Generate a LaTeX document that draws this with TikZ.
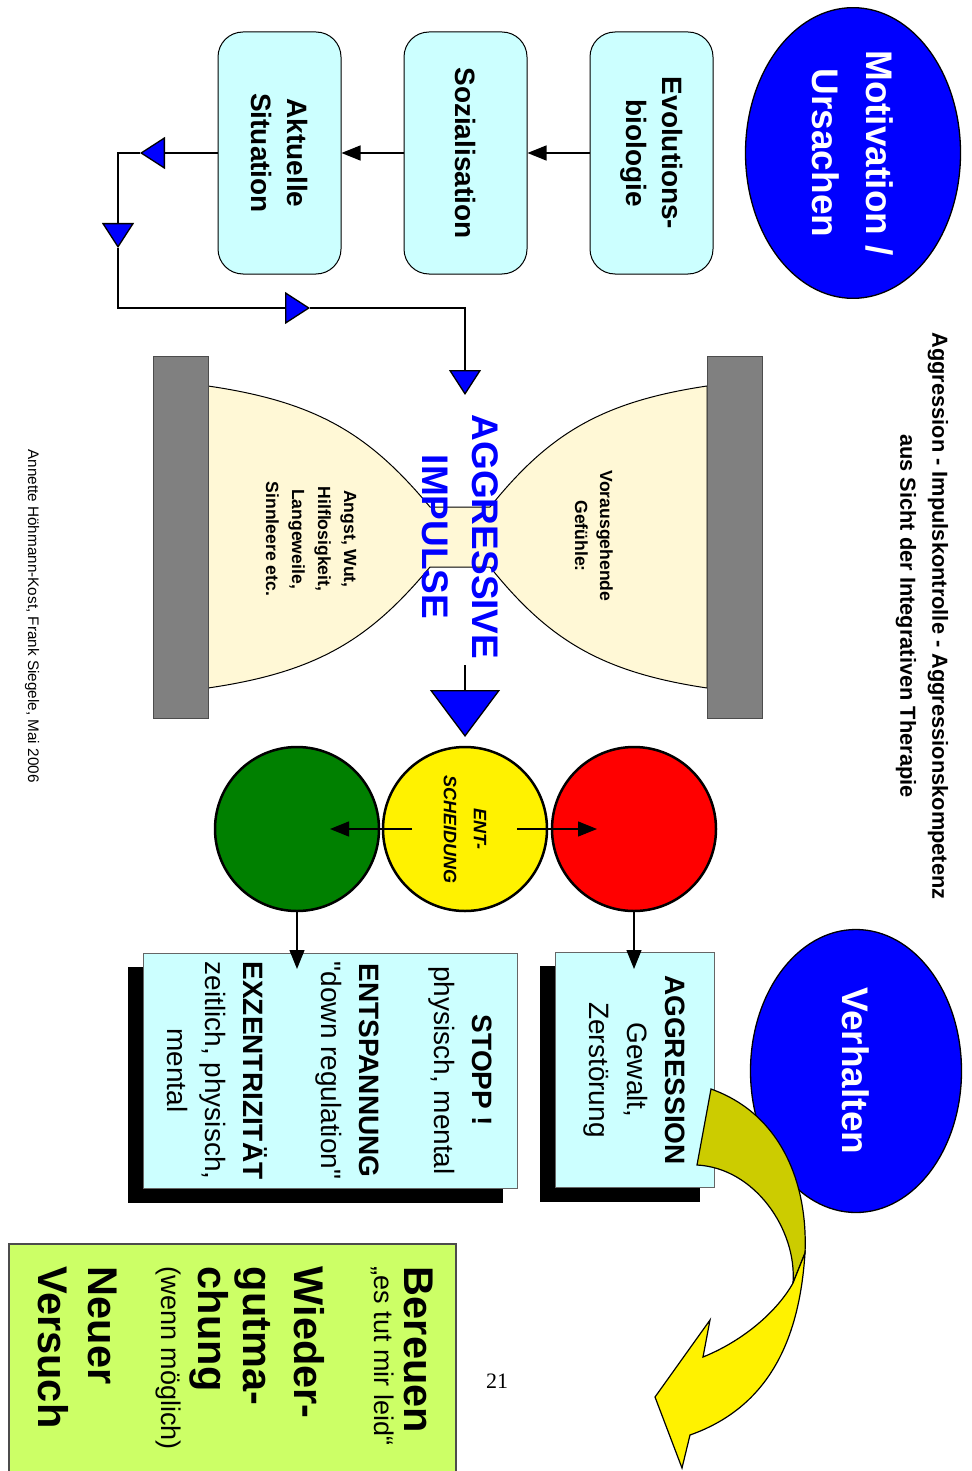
\documentclass[tikz,border=0pt]{standalone}
\usepackage{fontspec}
\setmainfont{Liberation Sans}[Ligatures=TeXOff]
\newfontfamily\seitenfont{Liberation Serif}
\usetikzlibrary{shapes.geometric,arrows.meta,backgrounds}
\definecolor{hellcyan}{HTML}{CCFFFF}
\definecolor{sand}{HTML}{FFF8D6}
\definecolor{lindgruen}{HTML}{CCFF66}
\definecolor{oliv}{HTML}{CCCC00}
\definecolor{reinblau}{HTML}{0000FF}
\definecolor{ampelgruen}{HTML}{008000}
\newcommand\festzeilen{\lineskiplimit=-16000pt\relax}

\begin{document}
\begin{tikzpicture}[x=1pt, y=1pt, rotate=-90, transform shape, line width=1.3pt,
  ursache/.style = {ellipse, draw, fill=reinblau, text=white,
    align=center, inner sep=0pt,
    font=\bfseries\fontsize{37}{54}\selectfont},
  quelle/.style = {rectangle, rounded corners=25pt, draw, line width=1pt,
    fill=hellcyan, minimum width=242pt, minimum height=123pt,
    align=center, font=\bfseries\fontsize{28}{36}\selectfont},
  folge/.style = {rectangle, draw=black!60, line width=1pt, fill=hellcyan,
    align=center, minimum width=235pt,
    font=\fontsize{28}{38}\selectfont},
  ampel/.style = {circle, draw, line width=2.5pt, minimum size=164pt},
  pfeil/.style = {-{Triangle[length=19pt, width=15pt]}},
  fluss/.style = {-{Triangle[length=25pt, width=32pt, fill=reinblau]}},
  balken/.style = {fill=black!50, draw=black!70, line width=1pt},
  schatten/.style = {fill=black}]

  \useasboundingbox (0,0) rectangle (1471,971);

  % Titel und Autoren
  \node[align=center, font=\bfseries\fontsize{21.8}{32}\selectfont] (titel)
    at (616,922) {Aggression - Impulskontrolle - Aggressionskompetenz\\aus Sicht der Integrativen Therapie};
  \node[font=\fontsize{15.3}{18}\selectfont] (autoren) at (616,32)
    {Annette Höhmann-Kost, Frank Siegele, Mai 2006};

  % Ursachen
  \node[ursache, minimum width=286pt, minimum height=215pt] (motiv)
    at (153,853) {Motivation /\\Ursachen};
  \node[quelle] (evo) at (153,651.5) {Evolutions-\\biologie};
  \node[quelle] (sozi) at (153,465.5) {Sozialisation};
  \node[quelle] (akt) at (153,279.5) {Aktuelle\\Situation};
  \draw[pfeil] (evo) -- (sozi);
  \draw[pfeil] (sozi) -- (akt);

  \coordinate (t1) at (153,140);
  \coordinate (k1) at (153,118);
  \coordinate (t2) at (248,118);
  \coordinate (k2) at (308,118);
  \coordinate (t3) at (308,310);
  \coordinate (k3) at (308,465);
  \coordinate (t4) at (395,465);
  \draw[fluss] (akt) -- (t1);
  \draw[fluss] (t1) -- (k1) -- (t2);
  \draw[fluss] (t2) -- (k2) -- (t3);
  \draw[fluss] (t3) -- (k3) -- (t4);

  % Sanduhr
  \filldraw[fill=sand, line width=1pt] (386,208)
    .. controls (402,318) and (435,370) .. (507,430) -- (507,490)
    .. controls (435,548) and (402,600) .. (386,707) -- (688,707)
    .. controls (672,600) and (639,548) .. (567,490) -- (567,430)
    .. controls (639,370) and (672,318) .. (688,208) -- cycle;
  \draw[balken] (356,153) rectangle (718,208);
  \draw[balken] (356,707) rectangle (718,762);
  \node[align=center, font=\bfseries\fontsize{17.6}{25}\selectfont] (vorher)
    at (536,594) {Vorausgehende\\Gefühle:};
  \node[align=center, font=\bfseries\fontsize{17.6}{26}\selectfont] (gefuehle)
    at (539,311) {Angst, Wut,\\Hilflosigkeit,\\Langeweile,\\Sinnleere etc.};
  \node[align=center, text=reinblau, font=\bfseries\fontsize{37}{50}\selectfont] (impuls)
    at (537,460) {AGGRESSIVE\\IMPULSE};
  \coordinate (i1) at (665,465);
  \coordinate (i2) at (737,465);
  \draw[-{Triangle[length=47pt, width=70pt, fill=reinblau]}] (i1) -- (i2);

  % Ampel
  \node[ampel, fill=red] (rot) at (829,634) {};
  \node[ampel, fill=ampelgruen] (gruen) at (829,297) {};
  \node[ampel, fill=yellow, align=center,
    font=\bfseries\itshape\fontsize{18}{30}\selectfont] (ent) at (829,465) {ENT-\\SCHEIDUNG};
  \coordinate (e1) at (829,517);
  \coordinate (e2) at (829,597);
  \coordinate (e3) at (829,412);
  \coordinate (e4) at (829,330);
  \draw[pfeil] (e1) -- (e2);
  \draw[pfeil] (e3) -- (e4);

  % Verhalten
  \node[folge, minimum height=159pt] (aggr) at (1070,634.5)
    {\textbf{AGGRESSION}\\Gewalt,\\Zerstörung};
  \node[folge, minimum height=374pt] (stopp) at (1070.5,330)
    {\textbf{STOPP !}\\physisch, mental\\[37pt]
     \textbf{ENTSPANNUNG}\\"down regulation"\\[40pt]
     \textbf{EXZENTRIZITÄT}\\zeitlich, physisch,\\mental};
  \begin{scope}[on background layer]
    \fill[schatten] ([shift={(14,-15)}]aggr.south west) rectangle ([shift={(14,-15)}]aggr.north east);
    \fill[schatten] ([shift={(14,-15)}]stopp.south west) rectangle ([shift={(14,-15)}]stopp.north east);
  \end{scope}
  \coordinate (r1) at (969,634);
  \coordinate (g1) at (969,297);
  \draw[pfeil] (rot) -- (r1);
  \draw[pfeil] (gruen) -- (g1);

  \node[ursache, minimum width=283pt, minimum height=211pt] (verhalten)
    at (1071,856) {Verhalten};

  % gedrehter Pfeil
  \filldraw[fill=oliv, line width=1.2pt] (1089,711)
    .. controls (1114,781) and (1183,808) .. (1253,805) -- (1283,793)
    .. controls (1230,797) and (1168,755) .. (1165,697) -- cycle;
  \filldraw[fill=yellow, line width=1.2pt] (1253,805)
    .. controls (1330,800) and (1405,775) .. (1435,690)
    -- (1468,682) -- (1397,655) -- (1320,710) -- (1357,703)
    .. controls (1340,745) and (1310,778) .. (1283,793) -- cycle;

  % Wiedergutmachung
  \node[rectangle, draw=black!70, line width=1.5pt, fill=lindgruen,
    minimum width=246pt, minimum height=447pt] (reue) at (1367,232.5) {};
  \node[anchor=north west, inner sep=23pt, align=left,
    font=\fontsize{41.5}{0}\selectfont\festzeilen] (reuetext) at (reue.north west)
    {\bfseries Bereuen\\[30pt]
     {\fontsize{27}{0}\selectfont „es tut mir leid“}\\[80pt]
     \bfseries Wieder-\\[51pt]
     \bfseries gutma-\\[45pt]
     \bfseries chung\\[37pt]
     {\fontsize{27}{0}\selectfont (wenn möglich)}\\[73pt]
     \bfseries Neuer\\[50pt]
     \bfseries Versuch};

  \node[rotate=90, font=\seitenfont\fontsize{22}{24}\selectfont] (seite) at (1381,497) {21};
\end{tikzpicture}
\end{document}
